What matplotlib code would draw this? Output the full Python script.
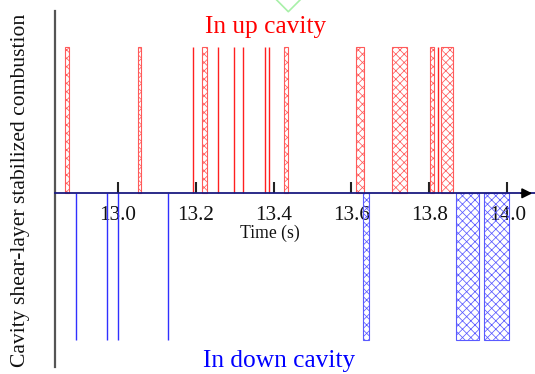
import matplotlib
matplotlib.use("Agg")
import matplotlib.pyplot as plt
from matplotlib.lines import Line2D

# Combustion events (time in s)
up_intervals = [(12.865, 12.874), (13.051, 13.059), (13.217, 13.228), (13.428, 13.438),
                (13.612, 13.632), (13.703, 13.742), (13.802, 13.813), (13.829, 13.860)]
up_instants = [13.194, 13.258, 13.299, 13.322, 13.379, 13.389, 13.822]

down_intervals = [(13.629, 13.644), (13.867, 13.928), (13.940, 14.003)]
down_instants = [12.893, 12.973, 13.001, 13.128]

xticks = [13.0, 13.2, 13.4, 13.6, 13.8, 14.0]
xticklabels = ["13.0", "13.2", "13.4", "13.6", "13.8", "14.0"]

plt.rcParams['font.family'] = ['Liberation Serif', 'DejaVu Serif']
plt.rcParams['hatch.linewidth'] = 0.55

W, H = 535, 374
fig = plt.figure(figsize=(W / 100, H / 100), dpi=100)
ax = fig.add_axes([55 / W, (H - 367) / H, (W - 55) / W, (367 - 11) / H])
ax.set_xlim(12.839, 14.071)
ax.set_ylim(-1.188, 1.247)

red_bar = '#ff5a5a'
red_line = '#ff2020'
blue_bar = '#5a5aff'
blue_line = '#3030ff'

for s, e in up_intervals:
    ax.bar(s, 1, width=e - s, bottom=0, align='edge', facecolor='none',
           edgecolor=red_bar, hatch='xxxx', linewidth=0.8, zorder=2)
ax.vlines(up_instants, 0, 1, colors=red_line, lw=1.0, zorder=2)

for s, e in down_intervals:
    ax.bar(s, -1, width=e - s, bottom=0, align='edge', facecolor='none',
           edgecolor=blue_bar, hatch='xxxx', linewidth=0.8, zorder=2)
ax.vlines(down_instants, 0, -1, colors=blue_line, lw=1.0, zorder=2)

# Axes styling: left spine and a time axis through zero
for side in ('top', 'right'):
    ax.spines[side].set_visible(False)
ax.spines['left'].set_color('#555555')
ax.spines['left'].set_linewidth(1.6)
ax.spines['bottom'].set_position(('data', 0))
ax.spines['bottom'].set_color('#1a1a80')
ax.spines['bottom'].set_linewidth(1.3)
ax.spines['bottom'].set_zorder(3)
ax.set_yticks([])
ax.set_xticks(xticks)
ax.set_xticklabels(xticklabels)
ax.tick_params(axis='x', direction='in', length=8, width=1.5, color='#222222',
               labelsize=15.2, pad=9, labelcolor='#111111')

# Arrow head at the end of the time axis
ax.annotate('', xy=(1.0, 0), xytext=(0.965, 0), xycoords=ax.get_yaxis_transform(),
            textcoords=ax.get_yaxis_transform(),
            arrowprops=dict(arrowstyle='-|>', color='black', lw=1.2, mutation_scale=15),
            annotation_clip=False, zorder=4)

fig.text(270 / W, 1 - 233 / H, 'Time (s)', ha='center', va='center', fontsize=12.7, color='#111111')
fig.text(266 / W, 1 - 33 / H, 'In up cavity', ha='center', va='baseline', fontsize=18.3, color='red')
fig.text(279 / W, 1 - 366.5 / H, 'In down cavity', ha='center', va='baseline', fontsize=18.3, color='blue')
fig.text(21 / W, 1 - 190 / H, 'Cavity shear-layer stabilized combustion', rotation=90,
         ha='center', va='center', fontsize=15.6, color='#111111')

fig.add_artist(Line2D([276.7 / W, 288.3 / W, 300 / W], [1.0, 1 - 11.7 / H, 1.0],
                      transform=fig.transFigure, color='#a8f0a8', lw=1.2))

fig.savefig('out.png', dpi=100, facecolor='white')
